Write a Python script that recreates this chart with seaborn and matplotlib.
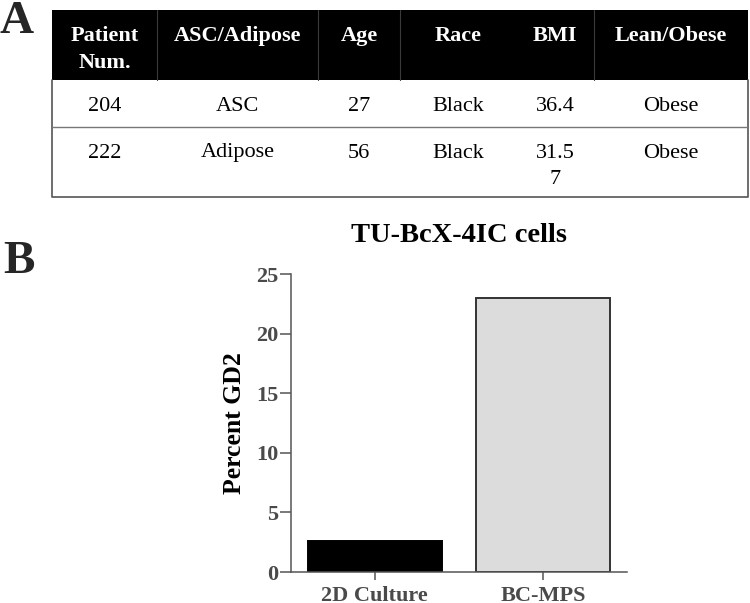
import matplotlib
matplotlib.use("Agg")
import matplotlib.pyplot as plt
from matplotlib.patches import Rectangle
import seaborn as sns
import pandas as pd

# ---- data ----
categories = ["2D Culture", "BC-MPS"]
percent_gd2 = [2.63, 23.0]
bar_colors = ["#000000", "#dcdcdc"]
y_ticks = [0, 5, 10, 15, 20, 25]

table_headers = ["Patient\nNum.", "ASC/Adipose", "Age", "Race", "BMI", "Lean/Obese"]
table_rows = [
    ["204", "ASC", "27", "Black", "36.4", "Obese"],
    ["222", "Adipose", "56", "Black", "31.5\n7", "Obese"],
]

sns.set_theme(style="white")
plt.rcParams["font.family"] = ["Liberation Serif", "DejaVu Serif"]

fig = plt.figure(figsize=(7.5, 6.03), dpi=100)

# ---- panel A: table (pixel coordinates) ----
axt = fig.add_axes([0, 0, 1, 1])
axt.set_xlim(0, 750)
axt.set_ylim(603, 0)
axt.axis("off")

left, right = 52, 748
top, head_bot, row1_bot, row2_bot = 10, 80, 127, 197
col_edges = [52, 157, 318, 400, 516, 594, 748]
header_dividers = [157, 318, 400, 594]

axt.add_patch(Rectangle((left, top), right - left, head_bot - top,
                        facecolor="black", edgecolor="none", zorder=1))
for xd in header_dividers:
    axt.plot([xd, xd], [top, head_bot], color="#3a3a3a", lw=0.8, zorder=2)
axt.plot([left, left, right, right], [head_bot, row2_bot, row2_bot, head_bot],
         color="#555555", lw=1.2, zorder=2)
axt.plot([left, right], [row1_bot, row1_bot], color="#777777", lw=1.0, zorder=2)

col_centers = [(col_edges[i] + col_edges[i + 1]) / 2 for i in range(6)]
line_step = 26.5


def put_cell(cx, base, txt, **kw):
    for i, line in enumerate(txt.split("\n")):
        axt.text(cx, base + i * line_step, line, ha="center", va="baseline",
                 zorder=3, **kw)


for cx, h in zip(col_centers, table_headers):
    put_cell(cx, 41, h, color="white", fontsize=16, fontweight="bold")
for base, row in zip([111, 157.5], table_rows):
    for cx, v in zip(col_centers, row):
        put_cell(cx, base, v, color="black", fontsize=16)

axt.text(0, 33, "A", fontsize=34, fontweight="bold", ha="left", va="baseline")
axt.text(3, 273, "B", fontsize=34, fontweight="bold", ha="left", va="baseline")

# ---- panel B: bar chart ----
ax = fig.add_axes([0.3876, 0.0514, 0.4484, 0.4942])
df = pd.DataFrame({"cat": categories, "val": percent_gd2})
sns.barplot(data=df, x="cat", y="val", hue="cat", palette=bar_colors,
            legend=False, width=0.8, ax=ax, edgecolor="#222222", linewidth=1.4)
for p, c in zip(ax.patches, bar_colors):
    p.set_edgecolor("#000000" if c == "#000000" else "#333333")

ax.set_xlim(-0.5, 1.5)
ax.set_ylim(0, 25)
ax.set_yticks(y_ticks)
ax.set_facecolor("white")
for s in ["top", "right"]:
    ax.spines[s].set_visible(False)
for s in ["left", "bottom"]:
    ax.spines[s].set_color("#555555")
    ax.spines[s].set_linewidth(1.1)

ax.tick_params(axis="y", direction="out", length=8, width=1.1, color="#555555",
               pad=1, labelsize=16, labelcolor="#4a4a4a", left=True)
ax.tick_params(axis="x", direction="out", length=6, width=1.1, color="#555555",
               pad=4, labelsize=16, labelcolor="#4a4a4a", bottom=True)
for lab in ax.get_xticklabels() + ax.get_yticklabels():
    lab.set_fontweight("bold")

ax.set_xlabel("")
ax.set_ylabel("Percent GD2", fontsize=18.5, fontweight="bold", color="black", labelpad=7)
ax.set_title("TU-BcX-4IC cells", fontsize=20.5, fontweight="bold", color="black", pad=23)

fig.savefig("out.png", dpi=100)
